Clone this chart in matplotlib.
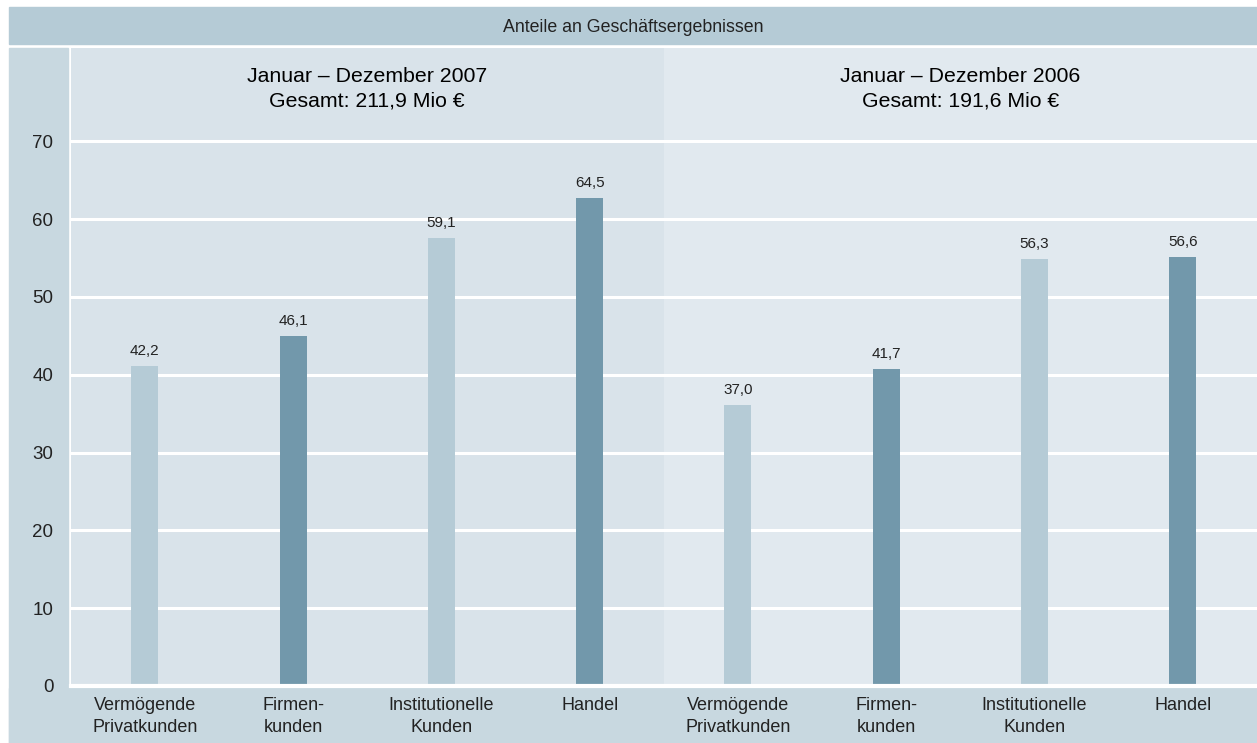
import matplotlib.pyplot as plt
import numpy as np
from matplotlib.patches import Rectangle

plt.rcParams['font.family'] = ['Liberation Sans', 'DejaVu Sans']

kategorien = ['Vermögende\nPrivatkunden', 'Firmen-\nkunden', 'Institutionelle\nKunden', 'Handel']
werte_2007 = [42.2, 46.1, 59.1, 64.5]
werte_2006 = [37.0, 41.7, 56.3, 56.6]
# Balkenhöhen wie im Bild gezeichnet (etwas niedriger als die Beschriftung)
balken_2007 = [41.1, 45.0, 57.6, 62.7]
balken_2006 = [36.1, 40.7, 54.9, 55.1]
titel = 'Anteile an Geschäftsergebnissen'
gruppen = ['Januar – Dezember 2007\nGesamt: 211,9 Mio €',
           'Januar – Dezember 2006\nGesamt: 191,6 Mio €']

hell = '#b5cbd6'
dunkel = '#7298ab'
band = '#c8d8e0'
text_farbe = '#222222'

W, H = 1257, 743
fig = plt.figure(figsize=(W / 100, H / 100), dpi=100)


def rechteck(x0, y0, x1, y1, farbe):
    fig.patches.append(Rectangle((x0 / W, 1 - y1 / H), (x1 - x0) / W, (y1 - y0) / H,
                                 transform=fig.transFigure, color=farbe, zorder=-5))


rechteck(9, 7, W, 44, hell)
rechteck(9, 48, 68, H, band)
rechteck(9, 688, W, H, band)
fig.text(633 / W, 1 - 27 / H, titel, ha='center', va='center', fontsize=12.8, color=text_farbe)

ax = fig.add_axes([70.7 / W, (H - 686) / H, (W - 70.7) / W, (686 - 48) / H])
ax.set_facecolor('none')
ax.set_xlim(-0.5, 7.5)
ax.set_ylim(0, 82)
ax.axvspan(-0.5, 3.5, color='#d9e3ea', zorder=0.1, lw=0)
ax.axvspan(3.5, 7.5, color='#e1e9ef', zorder=0.1, lw=0)

ax.set_yticks(np.arange(0, 80, 10))
ax.set_axisbelow(True)
ax.grid(axis='y', color='white', lw=2.2)
ax.axhline(0, color='white', lw=3, zorder=3, clip_on=False)
for s in ax.spines.values():
    s.set_visible(False)

werte = werte_2007 + werte_2006
balken = balken_2007 + balken_2006
x = np.arange(len(werte))
farben = [hell, dunkel] * 4
ax.bar(x, balken, width=0.182, color=farben, zorder=2)
for xi, h, w in zip(x, balken, werte):
    ax.annotate(f'{w:.1f}'.replace('.', ','), (xi, h), xytext=(0, 6), textcoords='offset points',
                ha='center', va='bottom', fontsize=11, color=text_farbe)

ax.set_xticks(x)
ax.set_xticklabels(kategorien * 2, fontsize=13, color=text_farbe, linespacing=1.35)
ax.tick_params(axis='x', length=0, pad=8)
ax.tick_params(axis='y', length=0, pad=12.5, labelsize=13.5, labelcolor=text_farbe)

ax.text(1.5, 76.8, gruppen[0], ha='center', va='center', fontsize=15.3, linespacing=1.38, color='black')
ax.text(5.5, 76.8, gruppen[1], ha='center', va='center', fontsize=15.3, linespacing=1.38, color='black')

fig.savefig('out.png', dpi=100)
